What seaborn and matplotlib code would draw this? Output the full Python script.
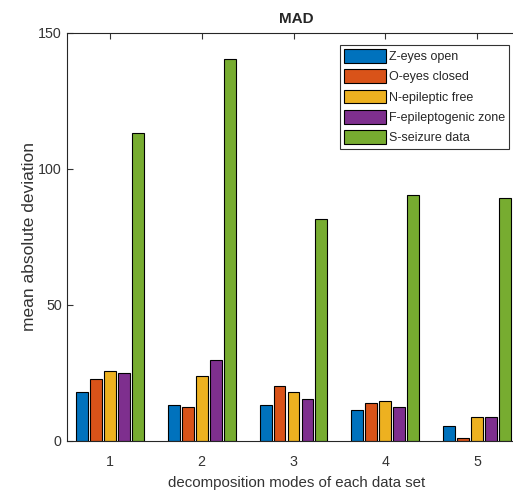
import pandas as pd
import seaborn as sns
import matplotlib.pyplot as plt

# bar values (one list per data set)
modes = ["1", "2", "3", "4", "5"]
z_eyes_open = [17.9, 13.0, 13.0, 11.4, 5.6]
o_eyes_closed = [22.8, 12.6, 20.1, 13.8, 0.9]
n_epileptic_free = [25.6, 24.0, 17.9, 14.8, 8.7]
f_epileptogenic = [25.1, 29.8, 15.3, 12.6, 8.7]
s_seizure = [113.2, 140.4, 81.6, 90.4, 89.3]

series_names = ["Z-eyes open", "O-eyes closed", "N-epileptic free",
                "F-epileptogenic zone", "S-seizure data"]
series_values = [z_eyes_open, o_eyes_closed, n_epileptic_free,
                 f_epileptogenic, s_seizure]

rows = []
for name, vals in zip(series_names, series_values):
    for m, v in zip(modes, vals):
        rows.append({"mode": m, "set": name, "value": v})
df = pd.DataFrame(rows)

# MATLAB default colour order
colors = ["#0072BD", "#D95319", "#EDB120", "#7E2F8E", "#77AC30"]

sns.set_style("white")
plt.rcParams['font.family'] = ['Liberation Sans', 'DejaVu Sans']

fig = plt.figure(figsize=(5.13, 4.92), dpi=100)
ax = fig.add_axes([0.130, 0.104, 0.895, 0.829])

sns.barplot(data=df, x="mode", y="value", hue="set", palette=colors,
            width=0.76, gap=0.15, edgecolor="black", linewidth=0.8,
            saturation=1, ax=ax)

ax.set_xlim(-0.47, 4.53)
ax.set_ylim(0, 150)
ax.set_yticks([0, 50, 100, 150])
ax.set_title("MAD", fontsize=11, fontweight="bold", pad=7)
ax.set_xlabel("decomposition modes of each data set", fontsize=10.8,
              color="#333333", labelpad=5.5)
ax.set_ylabel("mean absolute deviation", fontsize=12.5, color="#333333", labelpad=1)
ax.tick_params(direction="in", length=4, labelsize=10.3, colors="#333333",
               top=True, right=True, bottom=True, left=True)
ax.tick_params(axis="x", pad=10)
for s in ax.spines.values():
    s.set_color("#262626")
    s.set_linewidth(0.8)

leg = ax.legend(loc="upper left", bbox_to_anchor=(0.595, 0.971), fontsize=9,
                frameon=True, fancybox=False, edgecolor="black",
                handlelength=3.3, handleheight=1.3, handletextpad=0.25,
                labelspacing=0.5, borderpad=0.35, borderaxespad=0)
leg.get_frame().set_linewidth(0.8)

plt.savefig("out.png", dpi=100)
